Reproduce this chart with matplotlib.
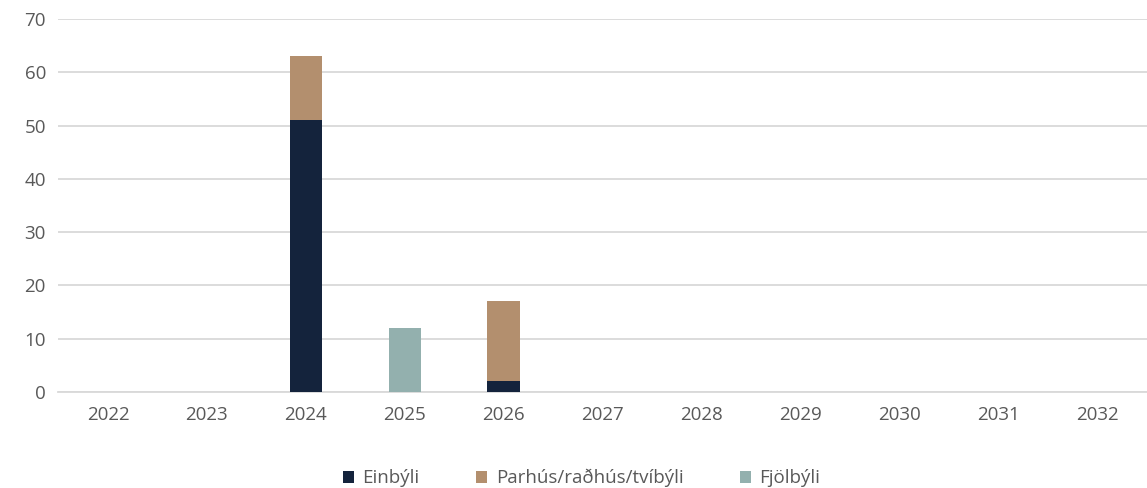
import numpy as np
import matplotlib.pyplot as plt

plt.rcParams['font.family'] = ['Open Sans', 'DejaVu Sans']

years = ['2022', '2023', '2024', '2025', '2026', '2027', '2028', '2029', '2030', '2031', '2032']
einbyli = [0, 0, 51, 0, 2, 0, 0, 0, 0, 0, 0]
parhus = [0, 0, 12, 0, 15, 0, 0, 0, 0, 0, 0]
fjolbyli = [0, 0, 0, 12, 0, 0, 0, 0, 0, 0, 0]
labels = ['Einbýli', 'Parhús/raðhús/tvíbýli', 'Fjölbýli']
colors = ['#14233C', '#B38F6E', '#93B0AE']

fig = plt.figure(figsize=(11.47, 4.88), dpi=100)
ax = fig.add_axes([0.051, 0.197, 0.949, 0.764])

x = np.arange(len(years))
w = 0.33
e = np.array(einbyli)
p = np.array(parhus)
f = np.array(fjolbyli)
ax.bar(x, e, w, color=colors[0], label=labels[0], zorder=3)
ax.bar(x, p, w, bottom=e, color=colors[1], label=labels[1], zorder=3)
ax.bar(x, f, w, bottom=e + p, color=colors[2], label=labels[2], zorder=3)

ax.set_xlim(-0.5, len(years) - 0.5)
ax.set_ylim(0, 70)
ax.set_yticks(range(0, 71, 10))
ax.set_xticks(x)
ax.set_xticklabels(years)
ax.yaxis.grid(True, color='#D9D9D9', linewidth=1.3, zorder=0)
ax.tick_params(axis='both', length=0, labelsize=13.5, colors='#595959')
ax.tick_params(axis='x', pad=10)
ax.tick_params(axis='y', pad=9)
for s in ['top', 'right', 'left']:
    ax.spines[s].set_visible(False)
ax.spines['bottom'].set_color('#D9D9D9')
ax.spines['bottom'].set_linewidth(1.3)

leg = fig.legend(loc='center', bbox_to_anchor=(0.507, 0.02), ncol=3, frameon=False,
                 fontsize=13.5, handlelength=0.6, handleheight=0.6, columnspacing=3.0,
                 handletextpad=0.45)
for t in leg.get_texts():
    t.set_color('#595959')

fig.savefig('out.png', dpi=100)
